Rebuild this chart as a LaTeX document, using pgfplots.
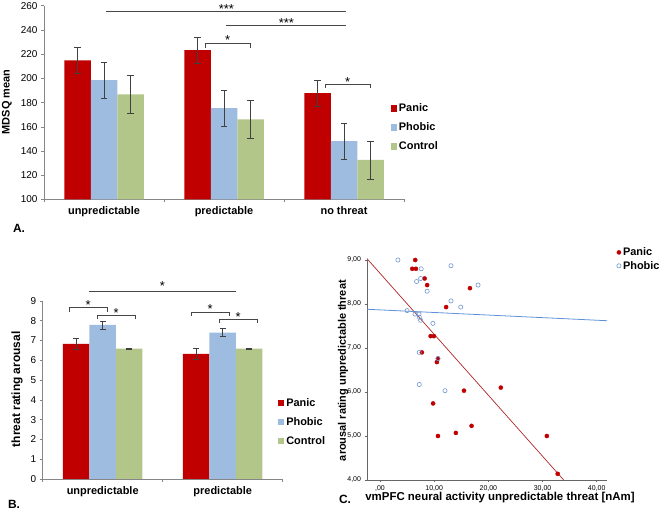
\documentclass[border=0pt]{standalone}
\usepackage{fontspec}
\setmainfont{Liberation Sans}
\usepackage{pgfplots}
\pgfplotsset{compat=1.18}
\definecolor{panic}{RGB}{192,0,0}
\definecolor{phobic}{RGB}{158,188,224}
\definecolor{control}{RGB}{178,198,138}
\definecolor{axgray}{RGB}{134,134,134}
\definecolor{siggray}{RGB}{70,70,70}
\definecolor{regred}{RGB}{178,40,40}
\definecolor{regblue}{RGB}{95,145,215}
\definecolor{ptblue}{RGB}{110,150,210}

\tikzset{sigstar/.style={font=\fontsize{13}{13}\selectfont, yshift=-2.5bp}}
\pgfplotsset{
  barbase/.style={
    scale only axis, ybar, bar width=26.5bp,
    axis lines*=left,
    axis line style={axgray, line width=0.6bp},
    tick align=outside, major tick length=3bp,
    tick style={axgray, line width=0.6bp},
    xticklabels={},
    extra x tick style={major tick length=0pt},
    xticklabel style={font=\bfseries\fontsize{11}{13}\selectfont, yshift=-4bp},
    yticklabel style={font=\fontsize{10}{12}\selectfont},
    /pgf/number format/assume math mode=true,
    clip=false,
    legend image code/.code={\fill[##1] (0bp,-3.2bp) rectangle (6.4bp,3.2bp);},
    legend style={draw=none, fill=none, inner sep=0pt,
      font=\bfseries\fontsize{11}{13}\selectfont, row sep=5.5bp,
      /tikz/every even column/.style={column sep=2.5bp}},
    legend cell align=left,
  },
  ebar/.style={error bars/.cd, y dir=both, y explicit,
    error bar style={black!75, line width=0.5bp},
    error mark options={rotate=90, black!75, mark size=3.2bp, line width=0.5bp}},
}

\begin{document}
\begin{tikzpicture}[x=1bp,y=1bp]
\path[use as bounding box] (0,0) rectangle (664,510);

% ---------------- Panel A ----------------
\begin{axis}[barbase,
  at={(44bp,310.5bp)}, anchor=south west,
  width=360bp, height=193.7bp,
  xmin=-0.5, xmax=2.5, ymin=100, ymax=260,
  ytick={100,120,...,260},
  xtick={-0.5,0.5,1.5,2.5},
  extra x ticks={0,1,2},
  extra x tick labels={unpredictable,predictable,no threat},
  ylabel={MDSQ mean},
  every axis y label/.style={at={(axis description cs:-0.103,0.503)}, rotate=90, anchor=center, font=\bfseries\fontsize{11}{13}\selectfont},
  legend style={at={(axis description cs:0.962,0.505)}, anchor=north west},
]
\addplot[fill=panic, draw=none, bar shift=-26.5bp, ebar] coordinates {(0,215.0) +- (0,11.0) (1,223.3) +- (0,10.9) (2,187.8) +- (0,10.5)};
\addplot[fill=phobic, draw=none, bar shift=0bp, ebar] coordinates {(0,198.6) +- (0,14.6) (1,175.5) +- (0,14.6) (2,148.2) +- (0,14.6)};
\addplot[fill=control, draw=none, bar shift=26.5bp, ebar] coordinates {(0,186.8) +- (0,15.8) (1,166.1) +- (0,15.7) (2,132.8) +- (0,15.7)};
\legend{Panic,Phobic,Control}
% significance
\draw[siggray, line width=0.6bp] (axis cs:0.02,255.5) -- (axis cs:2.02,255.5);
\node[sigstar] at (axis cs:1.02,259.6) {***};
\draw[siggray, line width=0.6bp] (axis cs:1.02,243.9) -- (axis cs:2.02,243.9);
\node[sigstar] at (axis cs:1.52,247.5) {***};
\draw[siggray, line width=0.6bp] (axis cs:0.842,225.5) -- (axis cs:0.842,228.8) -- (axis cs:1.217,228.8) -- (axis cs:1.217,225.5);
\node[sigstar] at (axis cs:1.03,233.8) {*};
\draw[siggray, line width=0.6bp] (axis cs:1.842,192) -- (axis cs:1.842,195) -- (axis cs:2.217,195) -- (axis cs:2.217,192);
\node[sigstar] at (axis cs:2.03,199) {*};
\end{axis}

% ---------------- Panel B ----------------
\begin{axis}[barbase,
  at={(42.7bp,31bp)}, anchor=south west,
  width=240bp, height=178bp,
  xmin=-0.5, xmax=1.5, ymin=0, ymax=9,
  ytick={0,1,...,9},
  xtick={-0.5,0.5,1.5},
  extra x ticks={0,1},
  extra x tick labels={unpredictable,predictable},
  ylabel={threat rating arousal},
  every axis y label/.style={at={(axis description cs:-0.107,0.504)}, rotate=90, anchor=center, font=\bfseries\fontsize{12}{14}\selectfont},
  legend style={at={(axis description cs:0.979,0.465)}, anchor=north west},
]
\addplot[fill=panic, draw=none, bar shift=-26.5bp, ebar] coordinates {(0,6.83) +- (0,0.27) (1,6.32) +- (0,0.29)};
\addplot[fill=phobic, draw=none, bar shift=0bp, ebar] coordinates {(0,7.79) +- (0,0.21) (1,7.40) +- (0,0.20)};
\addplot[fill=control, draw=none, bar shift=26.5bp, ebar] coordinates {(0,6.59) +- (0,0.01) (1,6.59) +- (0,0.01)};
\legend{Panic,Phobic,Control}
\draw[siggray, line width=0.6bp] (axis cs:-0.114,9.47) -- (axis cs:1.108,9.47);
\node[sigstar] at (axis cs:0.497,9.86) {*};
\draw[siggray, line width=0.6bp] (axis cs:-0.281,8.46) -- (axis cs:-0.281,8.66) -- (axis cs:0.039,8.66) -- (axis cs:0.039,8.46);
\node[sigstar] at (axis cs:-0.121,8.91) {*};
\draw[siggray, line width=0.6bp] (axis cs:-0.048,8.09) -- (axis cs:-0.048,8.29) -- (axis cs:0.273,8.29) -- (axis cs:0.273,8.09);
\node[sigstar] at (axis cs:0.112,8.51) {*};
\draw[siggray, line width=0.6bp] (axis cs:0.739,8.24) -- (axis cs:0.739,8.43) -- (axis cs:1.053,8.43) -- (axis cs:1.053,8.24);
\node[sigstar] at (axis cs:0.896,8.71) {*};
\draw[siggray, line width=0.6bp] (axis cs:0.969,7.87) -- (axis cs:0.969,8.06) -- (axis cs:1.289,8.06) -- (axis cs:1.289,7.87);
\node[sigstar] at (axis cs:1.129,8.34) {*};
\end{axis}

% ---------------- Panel C ----------------
\begin{axis}[scale only axis,
  at={(367bp,30bp)}, anchor=south west,
  width=240bp, height=220bp,
  xmin=-2.4, xmax=41.9, ymin=4, ymax=9,
  axis lines*=left,
  axis line style={black!60, line width=0.6bp},
  tick align=outside, major tick length=2.5bp,
  tick style={black!60, line width=0.5bp},
  xtick={0,10,20,30,40},
  xticklabels={{,00},{10,00},{20,00},{30,00},{40,00}},
  ytick={4,5,6,7,8,9},
  yticklabels={{4,00},{5,00},{6,00},{7,00},{8,00},{9,00}},
  tick label style={font=\fontsize{7}{8}\selectfont},
  /pgf/number format/assume math mode=true,
  xlabel={vmPFC neural activity unpredictable threat [nAm]},
  every axis x label/.style={at={(axis description cs:0.554,-0.082)}, anchor=center, font=\bfseries\fontsize{11.5}{13}\selectfont},
  ylabel={arousal rating unpredictable threat},
  every axis y label/.style={at={(axis description cs:-0.1,0.497)}, rotate=90, anchor=center, font=\bfseries\fontsize{11}{13}\selectfont},
  legend style={at={(axis description cs:1.040,1.066)}, anchor=north west, draw=none, fill=none, inner sep=0pt,
    font=\bfseries\fontsize{11}{13}\selectfont, row sep=0bp,
    /tikz/every even column/.style={column sep=4.5bp}},
  legend cell align=left,
  clip=false,
]
\addplot[regred, line width=0.7bp, forget plot] coordinates {(-2.4,9.03) (33.9,4.0)};
\addplot[regblue, line width=0.8bp, forget plot] coordinates {(-2.4,7.88) (41.9,7.62)};
\addplot[only marks, mark=*, mark size=2.1bp, mark options={fill=panic, draw=panic, line width=0.3bp}] coordinates {
(6.5,9.0) (5.95,8.80) (6.63,8.80) (8.23,8.58) (8.7,8.43) (16.6,8.36) (12.2,7.93)
(9.34,7.27) (9.95,7.27) (7.73,6.90) (10.7,6.76) (10.5,6.68) (15.5,6.03) (22.3,6.10)
(9.8,5.74) (10.7,5.0) (14.0,5.07) (16.9,5.23) (30.8,5.0) (32.8,4.14)};
\addplot[only marks, mark=o, mark size=2.1bp, mark options={draw=ptblue, line width=0.6bp}] coordinates {
(3.3,9.0) (13.1,8.87) (7.6,8.80) (7.5,8.58) (6.75,8.51) (8.7,8.29) (18.1,8.43)
(13.1,8.07) (14.9,7.93) (5.0,7.85) (6.45,7.77) (7.2,7.77) (7.25,7.70) (7.5,7.63)
(9.76,7.56) (7.25,6.90) (10.7,6.76) (7.25,6.17) (12.0,6.03)};
\legend{Panic,Phobic}
\end{axis}

\node[font=\bfseries\fontsize{12}{14}\selectfont] at (19,282) {A.};
\node[font=\bfseries\fontsize{12}{14}\selectfont] at (14,6) {B.};
\node[font=\bfseries\fontsize{12}{14}\selectfont] at (345,11) {C.};
\end{tikzpicture}
\end{document}
